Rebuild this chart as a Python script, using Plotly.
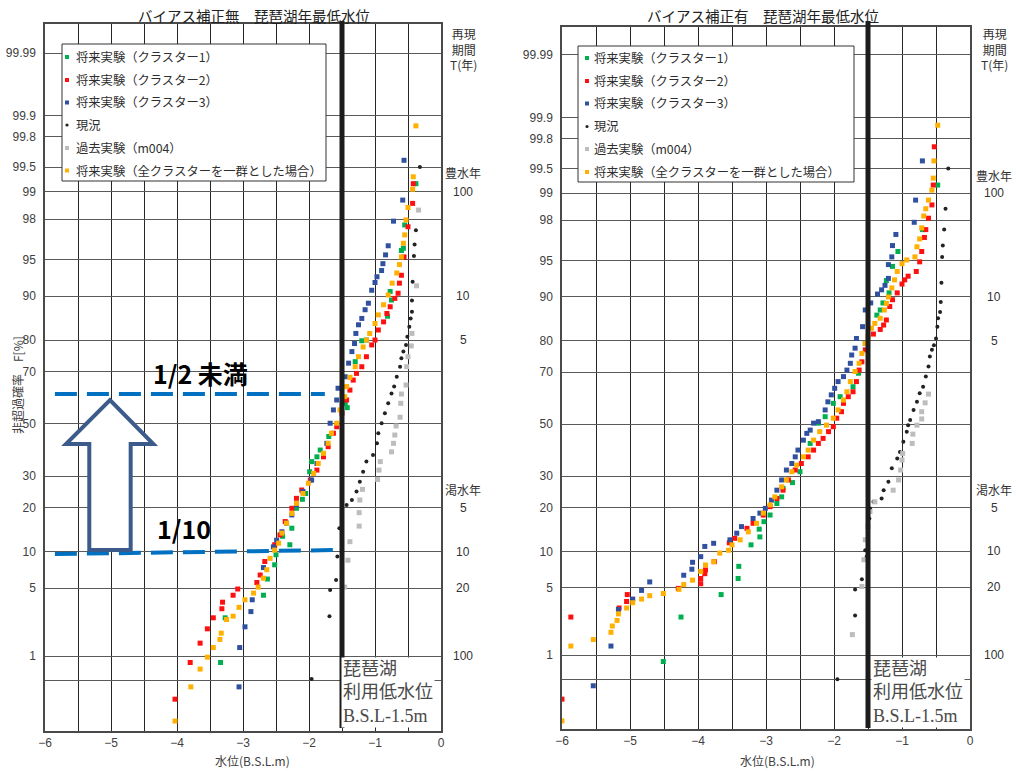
import plotly.graph_objects as go
from statistics import NormalDist

W, H = 1016, 771
ND = NormalDist()


def z(p):
    return ND.inv_cdf(p / 100.0)


def PX(x):
    return x / W


def PY(y):
    return 1 - y / H


# ---------------- data (water level [B.S.L. m], non-exceedance probability F [%]) ----------------
NAMES = ["将来実験（クラスター1）", "将来実験（クラスター2）", "将来実験（クラスター3）",
         "現況", "過去実験（m004）", "将来実験（全クラスターを一群とした場合）"]

# ---- left panel: without bias correction ----
L_green_x = [-0.38, -0.55, -0.57, -0.60, -0.75, -0.77, -0.81, -1.13, -1.20, -1.30, -1.42, -1.45, -1.70,
             -1.83, -1.88, -1.96, -1.99, -2.05, -2.10, -2.19, -2.26, -2.29, -2.40, -2.50, -2.52, -2.63,
             -2.69, -3.27, -3.34]
L_green_F = [99.2, 97.7, 96.1, 95.9, 89.3, 90.8, 86.0, 80.0, 79.8, 73.4, 56.5, 58.2, 45.0,
             39.7, 37.1, 35.3, 31.6, 24.3, 22.5, 19.9, 14.8, 11.3, 13.0, 9.5, 7.9, 6.0,
             4.3, 2.6, 0.84]

L_red_x = [-0.42, -0.43, -0.50, -0.56, -0.60, -0.63, -0.65, -0.70, -0.77, -0.82, -0.87, -0.95, -1.00,
           -1.05, -1.13, -1.20, -1.28, -1.33, -1.38, -1.43, -1.50, -1.58, -1.63, -1.71, -1.78, -1.88,
           -1.98, -2.11, -2.19, -2.26, -2.36, -2.44, -2.52, -2.67, -2.74, -2.79, -3.08, -3.15, -3.31,
           -3.32, -3.45, -3.54, -3.65, -3.80, -4.03]
L_red_F = [99.2, 98.65, 97.6, 95.3, 93.2, 92.1, 90.5, 89.6, 88.0, 86.6, 84.7, 82.7, 80.0,
           78.6, 75.0, 71.7, 69.4, 67.0, 63.3, 59.5, 54.3, 48.9, 46.3, 41.0, 37.1, 32.2,
           28.7, 25.4, 22.8, 19.9, 16.4, 13.3, 11.3, 8.4, 6.5, 5.6, 4.9, 4.3, 3.7,
           3.2, 2.6, 2.0, 1.4, 0.84, 0.29]

L_blue_x = [-0.56, -0.58, -0.72, -0.80, -0.84, -0.88, -0.90, -0.97, -1.00, -1.05, -1.10, -1.15, -1.20,
            -1.25, -1.29, -1.31, -1.35, -1.40, -1.45, -1.56, -1.58, -1.63, -1.68, -1.73, -1.78, -1.88,
            -1.96, -2.09, -2.19, -2.26, -2.34, -2.41, -2.49, -2.54, -2.69, -2.86, -2.88, -2.97, -3.05,
            -3.06]
L_blue_F = [99.59, 98.76, 97.9, 96.3, 95.5, 94.6, 93.8, 93.0, 92.2, 91.0, 88.7, 87.4, 85.5,
            84.0, 81.8, 79.0, 76.6, 72.9, 68.2, 64.0, 59.5, 55.6, 50.3, 42.3, 38.4, 34.6,
            28.7, 24.9, 20.9, 18.1, 16.0, 14.0, 12.2, 10.9, 7.5, 3.9, 3.0, 2.1, 1.25,
            0.42]

L_now_x = [-0.32, -0.38, -0.40, -0.41, -0.43, -0.44, -0.44, -0.46, -0.48, -0.51, -0.53, -0.57, -0.60,
           -0.62, -0.67, -0.71, -0.75, -0.80, -0.85, -0.90, -0.95, -0.97, -1.03, -1.13, -1.18, -1.23,
           -1.28, -1.35, -1.43, -1.54, -1.57, -1.59, -1.68, -1.69, -1.96]
L_now_F = [99.5, 97.4, 96.4, 95.4, 92.3, 89.2, 87.0, 85.5, 83.5, 80.9, 78.6, 76.6, 74.5,
           71.7, 68.2, 64.6, 62.0, 58.2, 54.3, 50.3, 46.3, 42.3, 37.8, 35.3, 31.6, 28.1,
           24.9, 22.3, 20.8, 14.8, 9.2, 5.9, 4.8, 2.7, 0.53]

L_past_x = [-0.34, -0.37, -0.44, -0.45, -0.50, -0.52, -0.53, -0.60, -0.61, -0.62, -0.68, -0.70, -0.72,
            -0.75, -0.92, -0.94, -0.96, -1.19, -1.23, -1.24, -1.24, -1.38, -1.41, -1.46]
L_past_F = [98.4, 91.7, 81.8, 78.3, 75.0, 71.7, 65.2, 61.8, 58.2, 52.7, 49.2, 45.6, 42.3,
            39.0, 35.3, 32.2, 28.9, 25.6, 22.3, 18.7, 15.3, 11.9, 8.6, 5.1]

L_all_x = [-0.38, -0.42, -0.43, -0.50, -0.53, -0.55, -0.57, -0.60, -0.63, -0.67, -0.74, -0.80, -0.87,
           -0.95, -1.00, -1.08, -1.13, -1.18, -1.25, -1.30, -1.38, -1.43, -1.46, -1.53, -1.58, -1.66,
           -1.71, -1.78, -1.86, -1.93, -2.01, -2.09, -2.19, -2.26, -2.34, -2.41, -2.46, -2.52, -2.59,
           -2.64, -2.69, -2.77, -2.84, -2.97, -3.06, -3.15, -3.25, -3.33, -3.35, -3.45, -3.54, -3.65,
           -3.79, -4.03]
L_all_F = [99.86, 99.34, 99.07, 98.5, 97.96, 97.1, 96.5, 95.3, 94.5, 93.5, 92.1, 90.2, 88.4,
           86.3, 84.3, 81.8, 80.0, 78.0, 75.0, 71.7, 68.0, 64.6, 60.8, 55.6, 50.3, 46.3,
           42.3, 38.4, 34.6, 31.0, 27.6, 24.3, 21.3, 18.5, 16.0, 13.7, 11.6, 10.3, 8.9,
           7.2, 6.1, 5.1, 4.5, 3.9, 3.3, 2.7, 2.5, 1.8, 1.54, 1.25, 0.97, 0.70,
           0.42, 0.145]

# ---- right panel: with bias correction ----
R_green_x = [-0.475, -0.70, -1.06, -1.14, -1.23, -1.19, -1.28, -1.32, -1.37, -1.54, -1.64, -1.72, -1.91,
             -2.01, -2.13, -2.23, -2.35, -2.50, -2.61, -2.75, -2.77, -2.84, -2.94, -3.03, -3.09, -3.10,
             -3.22, -3.40, -3.41, -3.66, -4.25, -4.51]
R_green_F = [99.2, 97.5, 95.9, 94.4, 92.6, 90.7, 88.9, 87.5, 86.4, 79.2, 69.6, 64.7, 60.9,
             58.3, 53.0, 50.4, 42.3, 31.6, 27.8, 25.9, 23.2, 21.2, 18.0, 16.3, 12.8, 14.5,
             11.2, 7.6, 6.0, 4.3, 2.6, 0.84]

R_red_x = [-0.525, -0.54, -0.56, -0.61, -0.65, -0.67, -0.71, -0.74, -0.79, -0.91, -0.96, -1.00, -1.07,
           -1.14, -1.18, -1.23, -1.27, -1.32, -1.42, -1.54, -1.59, -1.63, -1.67, -1.72, -1.79, -1.86,
           -1.89, -1.96, -2.01, -2.08, -2.16, -2.23, -2.30, -2.38, -2.48, -2.57, -2.67, -2.75, -2.84,
           -2.94, -3.04, -3.19, -3.28, -3.46, -3.54, -3.76, -3.89, -3.90, -3.96, -3.96, -4.29, -5.04,
           -5.05, -5.16, -5.87, -6.0]
R_red_F = [99.74, 99.2, 98.64, 98.1, 97.5, 97.0, 95.9, 94.9, 93.8, 93.2, 92.7, 92.1, 90.7,
           89.5, 88.2, 85.3, 84.1, 83.0, 81.8, 77.3, 73.5, 70.7, 66.6, 62.8, 60.9, 58.3,
           55.0, 52.4, 49.0, 47.0, 44.3, 42.3, 39.7, 37.1, 34.6, 32.2, 28.7, 25.3, 22.7,
           20.3, 18.0, 15.9, 14.7, 12.5, 11.6, 8.3, 7.1, 6.6, 6.0, 5.4, 4.9, 4.3,
           3.7, 3.2, 2.6, 0.28]

R_blue_x = [-0.70, -0.80, -0.82, -1.09, -1.14, -1.15, -1.20, -1.20, -1.25, -1.30, -1.36, -1.46, -1.54,
            -1.58, -1.67, -1.69, -1.74, -1.76, -1.81, -1.86, -1.94, -1.99, -2.04, -2.09, -2.13, -2.23,
            -2.30, -2.35, -2.40, -2.45, -2.53, -2.57, -2.62, -2.70, -2.77, -2.84, -2.92, -3.01, -3.09,
            -3.19, -3.36, -3.43, -3.53, -3.77, -3.90, -3.96, -4.08, -4.09, -4.21, -4.71, -4.83, -4.96,
            -5.17, -5.28, -5.54]
R_blue_F = [99.6, 98.8, 97.9, 97.2, 96.4, 95.4, 94.6, 92.9, 91.9, 91.2, 90.5, 88.9, 87.5,
            83.7, 80.6, 77.8, 75.7, 73.0, 70.7, 68.4, 66.6, 64.1, 61.6, 58.9, 55.7, 51.0,
            50.4, 47.6, 46.3, 43.6, 39.7, 37.1, 34.6, 32.2, 28.7, 25.3, 22.2, 19.8, 18.5,
            17.1, 15.1, 13.6, 12.2, 11.5, 10.9, 9.1, 8.2, 7.2, 6.4, 5.6, 4.7, 3.9,
            3.1, 1.27, 0.42]

R_now_x = [-0.32, -0.36, -0.38, -0.40, -0.41, -0.42, -0.43, -0.44, -0.47, -0.48, -0.50, -0.53, -0.56,
           -0.59, -0.61, -0.65, -0.69, -0.74, -0.78, -0.83, -0.88, -0.91, -0.93, -0.98, -1.03, -1.07,
           -1.15, -1.20, -1.27, -1.30, -1.42, -1.47, -1.48, -1.50, -1.54, -1.52, -1.59, -1.69, -1.69,
           -1.95]
R_now_F = [99.5, 98.5, 97.5, 96.4, 95.4, 92.3, 89.1, 87.1, 85.7, 83.7, 80.6, 78.7, 77.3,
           75.2, 71.9, 68.4, 64.7, 62.2, 58.9, 55.7, 51.7, 49.6, 47.0, 43.0, 39.0, 36.5,
           32.8, 28.1, 25.3, 22.7, 21.7, 19.8, 17.1, 14.7, 10.2, 9.1, 5.9, 4.8, 2.7,
           0.51]

R_past_x = [-0.61, -0.66, -0.71, -0.71, -0.78, -0.84, -0.85, -0.99, -1.00, -1.02, -1.05, -1.13, -1.40,
            -1.47, -1.50, -1.54, -1.56, -1.59, -1.73]
R_past_F = [61.9, 58.5, 55.0, 52.1, 49.6, 46.0, 42.3, 38.4, 35.9, 32.2, 28.7, 25.3, 21.7,
            18.9, 15.1, 12.2, 8.6, 5.1, 1.7]

R_all_x = [-0.475, -0.53, -0.54, -0.56, -0.61, -0.65, -0.68, -0.71, -0.74, -0.78, -0.81, -0.93, -1.00,
           -1.07, -1.11, -1.15, -1.20, -1.23, -1.26, -1.32, -1.40, -1.45, -1.50, -1.54, -1.59, -1.63,
           -1.69, -1.76, -1.81, -1.86, -1.94, -2.01, -2.11, -2.21, -2.30, -2.38, -2.45, -2.55, -2.62,
           -2.70, -2.77, -2.87, -2.94, -3.04, -3.14, -3.26, -3.38, -3.50, -3.55, -3.68, -3.77, -3.89,
           -3.96, -4.08, -4.21, -4.28, -4.51, -4.71, -4.83, -4.96, -5.05, -5.17, -5.19, -5.26, -5.28,
           -5.54, -5.87, -6.0]
R_all_F = [99.87, 99.6, 99.34, 99.08, 98.8, 98.5, 98.2, 97.6, 96.9, 96.3, 95.4, 95.1, 94.7,
           93.8, 92.7, 91.5, 90.0, 88.8, 87.5, 85.7, 84.5, 83.3, 81.1, 79.2, 76.2, 73.0,
           70.2, 66.6, 62.8, 59.6, 55.7, 52.4, 49.6, 47.0, 43.6, 39.7, 37.1, 34.0, 31.6,
           28.7, 26.4, 23.2, 20.8, 18.5, 15.9, 13.9, 12.2, 11.2, 10.2, 9.7, 8.3, 7.8,
           6.9, 5.8, 5.3, 4.8, 4.4, 4.2, 3.9, 3.6, 3.2, 2.8, 2.4, 2.1, 1.8,
           1.5, 1.27, 0.14]

# axis tick values
Y_TICKS = [99.99, 99.9, 99.8, 99.5, 99, 98, 95, 90, 80, 70, 50, 30, 20, 10, 5, 1, 0.5]
Y_TICK_TEXT = ["99.99", "99.9", "99.8", "99.5", "99", "98", "95", "90", "80", "70", "50",
               "30", "20", "10", "5", "1", ""]
WET_T = ["100", "10", "5"]
WET_F = [99, 90, 80]
DRY_T = ["5", "10", "20", "100"]
DRY_F = [20, 10, 5, 1]

# ---------------- styles ----------------
STYLES = [
    dict(color="#00B050", symbol="square", size=5),
    dict(color="#FF1010", symbol="square", size=5),
    dict(color="#3050A0", symbol="square", size=5),
    dict(color="#222222", symbol="circle", size=4),
    dict(color="#BDBDBD", symbol="square", size=5),
    dict(color="#FFB000", symbol="square", size=5),
]

LEFT = [(L_green_x, L_green_F), (L_red_x, L_red_F), (L_blue_x, L_blue_F),
        (L_now_x, L_now_F), (L_past_x, L_past_F), (L_all_x, L_all_F)]
RIGHT = [(R_green_x, R_green_F), (R_red_x, R_red_F), (R_blue_x, R_blue_F),
         (R_now_x, R_now_F), (R_past_x, R_past_F), (R_all_x, R_all_F)]

fig = go.Figure()
for panel, (xa, ya) in ((LEFT, ("x", "y")), (RIGHT, ("x2", "y2"))):
    for (xs, fs), name, st in zip(panel, NAMES, STYLES):
        fig.add_trace(go.Scatter(
            x=xs, y=[z(f) for f in fs], customdata=fs, name=name, mode="markers",
            marker=dict(color=st["color"], symbol=st["symbol"], size=st["size"], line=dict(width=0)),
            xaxis=xa, yaxis=ya, showlegend=False,
            hovertemplate="%{x} m, F=%{customdata}%<extra>" + name + "</extra>"))

TICKFONT = dict(family="Liberation Sans, Noto Sans CJK JP", size=12, color="#404040")
GRID_V = "#262626"
GRID_H = "#5a5a5a"


def xaxis_cfg(domain, anchor):
    return dict(domain=domain, anchor=anchor, range=[-6, 0], tickmode="linear", tick0=-6, dtick=1,
                showgrid=True, gridcolor=GRID_V, gridwidth=1, zeroline=False,
                minor=dict(dtick=0.5, tick0=-6, showgrid=True, gridcolor=GRID_V, gridwidth=1),
                showline=True, linecolor="#4a4a4a", linewidth=1.5, mirror=True, automargin=False,
                ticks="", tickfont=TICKFONT, fixedrange=True)


def yaxis_cfg(domain, anchor, rng):
    return dict(domain=domain, anchor=anchor, range=rng, tickmode="array",
                tickvals=[z(v) for v in Y_TICKS], ticktext=Y_TICK_TEXT,
                showgrid=True, gridcolor=GRID_H, gridwidth=1.2, zeroline=False,
                showline=True, linecolor="#4a4a4a", linewidth=1.5, mirror=True, automargin=False,
                ticks="", ticklabelstandoff=5, tickfont=TICKFONT, fixedrange=True)


fig.update_layout(
    width=W, height=H, margin=dict(l=0, r=0, t=0, b=0, autoexpand=False),
    paper_bgcolor="white", plot_bgcolor="white", showlegend=False,
    font=dict(family="Noto Sans CJK JP, Liberation Sans", size=12, color="#333333"),
    xaxis=xaxis_cfg([PX(45), PX(441)], "y"),
    yaxis=yaxis_cfg([PY(731), PY(24)], "x", [-3.078, 4.010]),
    xaxis2=xaxis_cfg([PX(562), PX(970)], "y2"),
    yaxis2=yaxis_cfg([PY(729), PY(27)], "x2", [-3.071, 4.001]),
)

shapes = []
ann = []

# thick vertical line: B.S.L -1.5 m
for xr in ("x", "x2"):
    shapes.append(dict(type="line", xref=xr, yref="paper", x0=-1.5, x1=-1.5, y0=PY(728), y1=PY(21),
                       line=dict(color="#1c1c1c", width=5), layer="above"))

# legends (drawn manually to match the original layout)
LEG = [dict(box=(62, 44, 326, 181), mx=67, tx=75, ys=[57, 80, 102.5, 125, 148, 170.5]),
       dict(box=(578, 46, 854, 182), mx=587, tx=593, ys=[58, 81, 103.5, 126.5, 149, 172])]
for lg in LEG:
    x0, y0, x1, y1 = lg["box"]
    shapes.append(dict(type="rect", xref="paper", yref="paper", x0=PX(x0), x1=PX(x1), y0=PY(y1), y1=PY(y0),
                       line=dict(color="#333333", width=1), fillcolor="white", layer="above"))
    for yy, name, st in zip(lg["ys"], NAMES, STYLES):
        s = 2 if st["symbol"] == "square" else 1.6
        shapes.append(dict(type="rect" if st["symbol"] == "square" else "circle",
                           xref="paper", yref="paper",
                           x0=PX(lg["mx"] - s), x1=PX(lg["mx"] + s), y0=PY(yy + s), y1=PY(yy - s),
                           line=dict(width=0), fillcolor=st["color"], layer="above"))
        ann.append(dict(xref="paper", yref="paper", x=PX(lg["tx"] - 1), y=PY(yy), xanchor="left", yanchor="middle",
                        text=name, showarrow=False, font=dict(size=12.3, color="#2e2e2e")))

# titles
ann.append(dict(xref="paper", yref="paper", x=PX(254), y=PY(15), text="バイアス補正無　琵琶湖年最低水位",
                showarrow=False, font=dict(size=14.5, color="#222222"), xanchor="center", yanchor="middle"))
ann.append(dict(xref="paper", yref="paper", x=PX(763), y=PY(15), text="バイアス補正有　琵琶湖年最低水位",
                showarrow=False, font=dict(size=14.5, color="#222222"), xanchor="center", yanchor="middle"))

# axis titles
for cx in (252, 777):
    ann.append(dict(xref="paper", yref="paper", x=PX(cx), y=PY(760), text="水位(B.S.L.m)",
                    showarrow=False, font=dict(size=12, color="#404040"), xanchor="center", yanchor="middle"))
ann.append(dict(xref="paper", yref="paper", x=PX(17), y=PY(385), text="非超過確率　F[%]", textangle=-90,
                showarrow=False, font=dict(size=12, color="#404040"), xanchor="center", yanchor="middle"))

# return-period labels on the right of each panel
for yr, cx, wet_y in (("y", 463, 173), ("y2", 994, 176)):
    ann.append(dict(xref="paper", yref="paper", x=PX(cx), y=PY(49), text="再現<br>期間<br>T(年)",
                    showarrow=False, font=dict(size=12, color="#333333"), xanchor="center", yanchor="middle"))
    ann.append(dict(xref="paper", yref="paper", x=PX(cx), y=PY(wet_y), text="豊水年",
                    showarrow=False, font=dict(size=12, color="#333333"), xanchor="center", yanchor="middle"))
    ann.append(dict(xref="paper", yref="paper", x=PX(cx), y=PY(490), text="渇水年",
                    showarrow=False, font=dict(size=12, color="#333333"), xanchor="center", yanchor="middle"))
    for t, f in list(zip(WET_T, WET_F)) + list(zip(DRY_T, DRY_F)):
        ann.append(dict(xref="paper", yref=yr, x=PX(cx), y=z(f), text=t, showarrow=False,
                        font=dict(family="Liberation Sans, Noto Sans CJK JP", size=12, color="#333333"),
                        xanchor="center", yanchor="middle"))

# low-water-level text boxes
for bx in (341, 871):
    ann.append(dict(xref="paper", yref="paper", x=PX(bx), y=PY(728), xanchor="left", yanchor="bottom",
                    text="琵琶湖<br>利用低水位<br>B.S.L-1.5m", align="left", showarrow=False,
                    bgcolor="white", borderpad=1,
                    font=dict(family="Liberation Serif, Noto Sans CJK JP", size=18, color="#4a4a4a")))

# left-panel annotation: dashed lines, arrow and ratio texts
shapes.append(dict(type="line", xref="x", yref="y", x0=-5.85, x1=-1.76, y0=0.300, y1=0.300,
                   line=dict(color="#0070C0", width=4, dash="22px,10px"), layer="above"))
shapes.append(dict(type="line", xref="x", yref="y", x0=-5.85, x1=-1.53, y0=-1.304, y1=-1.263,
                   line=dict(color="#0070C0", width=4, dash="22px,10px"), layer="above"))
arrow = [(-5.329, -1.263), (-5.329, -0.201), (-5.682, -0.201), (-5.015, 0.240),
         (-4.359, -0.201), (-4.702, -0.201), (-4.702, -1.263)]
path = "M " + " L ".join(f"{a},{b}" for a, b in arrow) + " Z"
shapes.append(dict(type="path", xref="x", yref="y", path=path, fillcolor="white",
                   line=dict(color="#3C5A8A", width=4), layer="above"))
ann.append(dict(xref="paper", yref="paper", x=PX(200), y=PY(373), text="1/2 未満", showarrow=False,
                font=dict(size=25, color="#000000", weight="bold"), xanchor="center", yanchor="middle"))
ann.append(dict(xref="paper", yref="paper", x=PX(184), y=PY(528), text="1/10", showarrow=False,
                font=dict(size=25, color="#000000", weight="bold"), xanchor="center", yanchor="middle"))

fig.update_layout(shapes=shapes, annotations=ann)
fig.write_html("out.html", config={"displayModeBar": False},
               post_script="document.body.style.margin='0px';")
